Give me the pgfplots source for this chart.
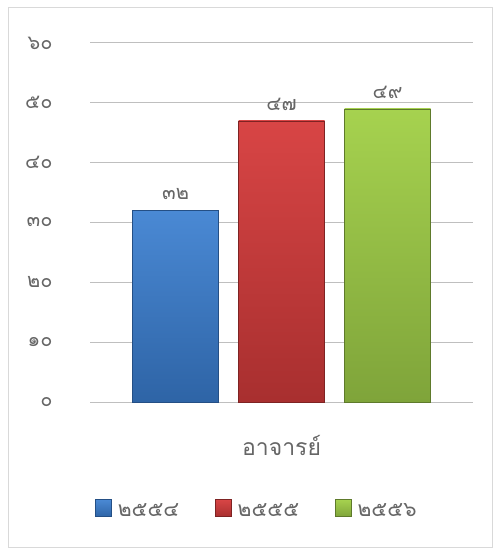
\documentclass[border=0pt]{standalone}
\usepackage{pgfplots}
\pgfplotsset{compat=1.18}
\usepackage{fontspec}
\setmainfont[Script=Thai]{Loma}
\definecolor{txt}{HTML}{666666}
\definecolor{grid}{HTML}{D9D9D9}
\definecolor{bA}{HTML}{4A89D4}\definecolor{bB}{HTML}{2E64A6}\definecolor{bE}{HTML}{244F85}
\definecolor{rA}{HTML}{D84545}\definecolor{rB}{HTML}{A82F2F}\definecolor{rE}{HTML}{7E2323}
\definecolor{gA}{HTML}{A6D24F}\definecolor{gB}{HTML}{7FA43A}\definecolor{gE}{HTML}{5E7A2B}
\begin{document}
\begin{tikzpicture}
\useasboundingbox (0pt,0pt) rectangle (493pt,549pt);
\draw[grid, line width=1pt] (8pt,1pt) rectangle (492pt,541pt);
\begin{axis}[
  at={(90pt,147pt)}, anchor=south west,
  scale only axis, width=383pt, height=359pt,
  xmin=-1, xmax=1, ymin=0, ymax=60,
  ytick={0,10,20,30,40,50,60},
  yticklabels={๐,๑๐,๒๐,๓๐,๔๐,๕๐,๖๐},
  xtick={0}, xticklabels={อาจารย์},
  axis line style={draw=none},
  major tick length=0pt, tick style={draw=none},
  xmajorgrids=false,
  ymajorgrids, grid style={grid, line width=1pt},
  ybar=20pt, bar width=86pt,
  tick label style={color=txt, font=\fontsize{20}{22}\selectfont},
  yticklabel style={xshift=-34pt},
  xticklabel style={yshift=-30pt, font=\fontsize{23}{26}\selectfont},
  nodes near coords, point meta=explicit symbolic,
  every node near coord/.append style={color=txt, font=\fontsize{20}{22}\selectfont, yshift=7pt},
  legend columns=3,
  legend style={at={(0.436,-0.3)}, anchor=center, draw=none, fill=none,
    font=\fontsize{21}{23}\selectfont, text=txt,
    /tikz/every odd column/.append style={column sep=4pt},
    /tikz/every even column/.append style={column sep=34pt}},
  legend image code/.code={\draw[#1] (0pt,-6pt) rectangle (16pt,11pt);},
]
\addplot[draw=bE, top color=bA, bottom color=bB] coordinates {(0,32) [๓๒]};
\addplot[draw=rE, top color=rA, bottom color=rB] coordinates {(0,47) [๔๗]};
\addplot[draw=gE, top color=gA, bottom color=gB] coordinates {(0,49) [๔๙]};
\legend{๒๕๕๔,๒๕๕๕,๒๕๕๖}
\end{axis}
\end{tikzpicture}
\end{document}
